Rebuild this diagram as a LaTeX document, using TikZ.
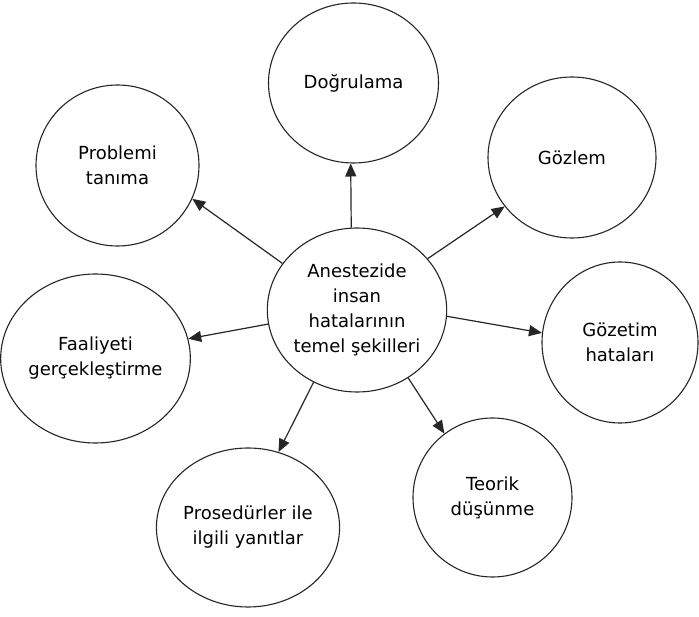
\documentclass[tikz,border=0pt]{standalone}
\usepackage{fontspec}
\setmainfont{DejaVu Sans}
\usetikzlibrary{shapes.geometric,arrows.meta}
\definecolor{ink}{HTML}{262626}
\begin{document}
\begin{tikzpicture}[x=1pt,y=-1pt,
  bubble/.style={ellipse,draw=ink,line width=1.1pt,inner sep=0pt,
    align=center,text=black,font=\fontsize{18}{25}\selectfont},
  link/.style={draw=ink,line width=1.2pt,
    -{Triangle[length=13pt,width=11pt]}}]
\useasboundingbox (0,0) rectangle (699,617);
\fill[white] (0,0) rectangle (699,617);

% central idea
\node[bubble,minimum width=164pt,minimum height=164pt] (c) at (357,310)
  {Anestezide\\insan\\hatalarının\\temel şekilleri};

% surrounding error forms
\node[bubble,minimum width=170pt,minimum height=160pt] (dog) at (353.5,83) {Doğrulama};
\node[bubble,minimum width=168pt,minimum height=161pt] (goz) at (572,157.5) {Gözlem};
\node[bubble,minimum width=156pt,minimum height=161pt] (gzt) at (620,342.5) {Gözetim\\hataları};
\node[bubble,minimum width=159pt,minimum height=159pt] (teo) at (492.5,497.5) {Teorik\\düşünme};
\node[bubble,minimum width=158pt,minimum height=159pt] (pro) at (248,527.5) {Prosedürler ile\\ilgili yanıtlar};
\node[bubble,minimum width=165pt,minimum height=169pt] (faa) at (95.5,358.5) {Faaliyeti\\gerçekleştirme};
\node[bubble,minimum width=163pt,minimum height=161pt] (prb) at (117.5,165.5) {Problemi\\tanıma};

% connectors
\draw[link] (c.148) -- (prb.-24);
\draw[link] (c.94) -- (dog.-92);
\draw[link] (c.36) -- (goz.216);
\draw[link] (c.-4) -- (gzt.173);
\draw[link] (c.-53) -- (teo.127);
\draw[link] (c.-121) -- (pro.68);
\draw[link] (c.189) -- (faa.12.6);
\end{tikzpicture}
\end{document}
